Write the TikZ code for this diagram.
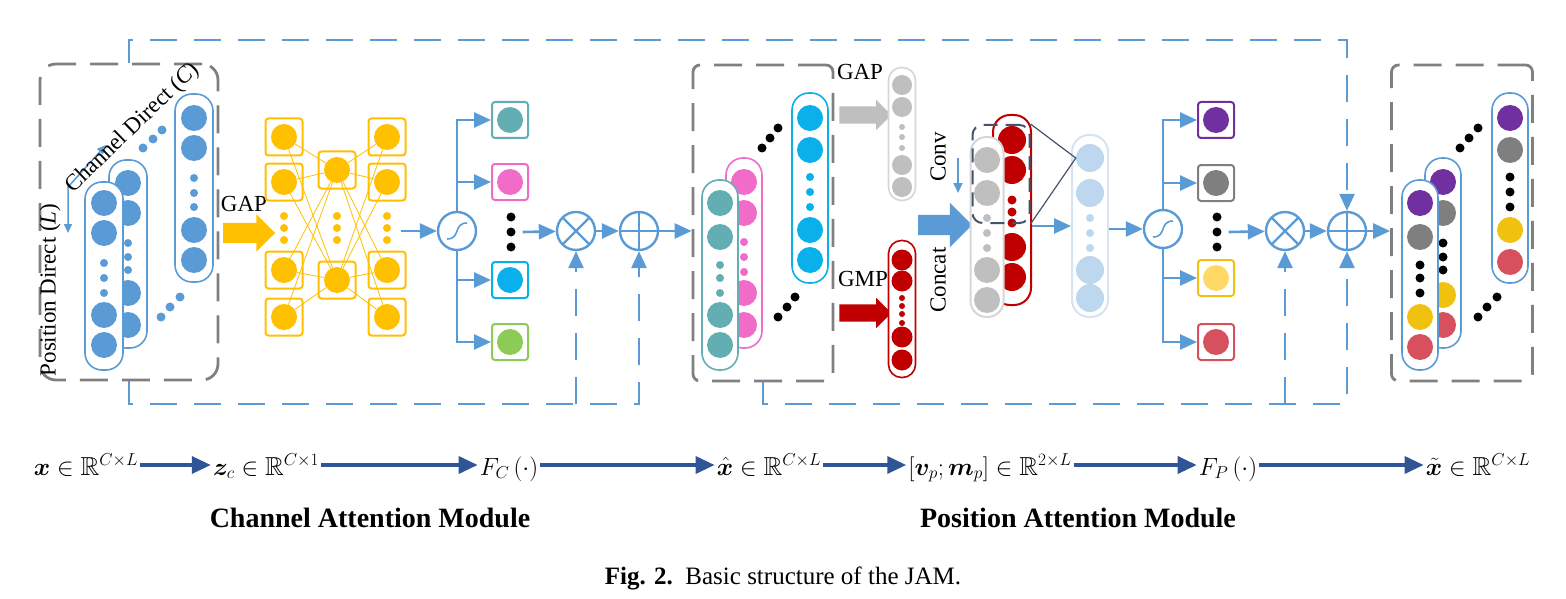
\documentclass[tikz,border=0pt]{standalone}
\usepackage{amsmath,amssymb,bm}
\usepackage{fontspec}
\setmainfont{Liberation Serif}
\usetikzlibrary{arrows.meta,shapes.arrows}

\definecolor{jblue}{HTML}{5B9BD5}
\definecolor{jnavy}{HTML}{2F5597}
\definecolor{jgray}{HTML}{808080}
\definecolor{jorange}{HTML}{FFC000}
\definecolor{jteal}{HTML}{62AEB3}
\definecolor{jpink}{HTML}{F06CC8}
\definecolor{jcyan}{HTML}{0AB0EC}
\definecolor{jgreen}{HTML}{8CCB55}
\definecolor{jpurple}{HTML}{7030A0}
\definecolor{jdgray}{HTML}{7F7F7F}
\definecolor{jyellow}{HTML}{F0C20F}
\definecolor{jlyellow}{HTML}{FFD966}
\definecolor{jred}{HTML}{D7505E}
\definecolor{jdred}{HTML}{C00000}
\definecolor{jlgray}{HTML}{BFBFBF}
\definecolor{jvlgray}{HTML}{D6D6D6}
\definecolor{jlblue}{HTML}{BDD7EE}
\definecolor{jvlblue}{HTML}{D6E4F2}
\definecolor{jslate}{HTML}{44546A}

\begin{document}
\begin{tikzpicture}[x=1pt,y=-1pt,
  font=\fontsize{23}{26}\selectfont,
  flow/.style={draw=jblue,line width=2.6pt,-{Triangle[length=17pt,width=15pt]}},
  shortcut/.style={draw=jblue,line width=2.8pt,dash pattern=on 27pt off 17pt,-{Triangle[length=17pt,width=15pt]}},
  fmap/.style={rectangle,draw=jgray,line width=2.8pt,dash pattern=on 28pt off 14pt,
    rounded corners=16pt,minimum width=#1,minimum height=316pt,inner sep=0pt},
  capsule/.style={rectangle,draw=#1,fill=white,line width=1.6pt,rounded corners=17pt,
    minimum width=36pt,inner sep=0pt},
  ball/.style={circle,fill=#1,inner sep=0pt,minimum size=26pt},
  pip/.style={circle,fill=#1,inner sep=0pt,minimum size=8pt},
  wcell/.style={rectangle,draw=#1,fill=white,line width=2pt,rounded corners=3pt,
    minimum size=37pt,inner sep=0pt},
  opnode/.style={circle,draw=jblue,line width=2.4pt,minimum size=38pt,inner sep=0pt},
  sigop/.style={opnode,path picture={\draw[jblue,line width=1.6pt]
    ([shift={(-10pt,-8pt)}]path picture bounding box.center) .. controls +(14pt,0pt) and +(-14pt,0pt)
    .. ([shift={(10pt,8pt)}]path picture bounding box.center);}},
  mulop/.style={opnode,path picture={\draw[jblue,line width=2.4pt]
    (path picture bounding box.north west) -- (path picture bounding box.south east)
    (path picture bounding box.north east) -- (path picture bounding box.south west);}},
  addop/.style={opnode,path picture={\draw[jblue,line width=2.4pt]
    (path picture bounding box.north) -- (path picture bounding box.south)
    (path picture bounding box.east) -- (path picture bounding box.west);}},
  blockarrow/.style={single arrow,fill=#1,inner sep=0pt,minimum height=52pt,text width=0pt,
    single arrow head indent=0pt,shape border rotate=0},
  formula/.style={font=\fontsize{26}{30}\selectfont,inner sep=2pt,anchor=base},
  eqarrow/.style={draw=jnavy,line width=3.5pt,-{Triangle[length=19pt,width=17pt]}}]

  \useasboundingbox (0,0) rectangle (1566,599);

  % channel attention: input x
  \node[fmap=178pt] (xin) at (129,222) {};
  \node[capsule=jblue,minimum width=38pt,minimum height=188pt] (xc3) at (194,188) {};
  \foreach \y in {118,148,230,260} \node[ball=jblue] (xc3-\y) at (194,\y) {};
  \foreach \y in {178,193,207} \node[pip=jblue] (xc3p-\y) at (194,\y) {};
  \node[capsule=jblue,minimum width=38pt,minimum height=188pt] (xc2) at (128,254) {};
  \foreach \y in {183,213,293,325} \node[ball=jblue] (xc2-\y) at (128,\y) {};
  \foreach \y in {243,257,270} \node[pip=jblue] (xc2p-\y) at (128,\y) {};
  \node[capsule=jblue,minimum width=38pt,minimum height=188pt] (xc1) at (104,276) {};
  \foreach \y in {203,233,315,345} \node[ball=jblue] (xc1-\y) at (104,\y) {};
  \foreach \y in {263,278,293} \node[pip=jblue] (xc1p-\y) at (104,\y) {};
  \foreach \x/\y [count=\k] in {143/148,153/139,162/130,161/317,170/307,180/297}
    \node[pip=jblue,minimum size=9pt] (xe\k) at (\x,\y) {};
  \coordinate (ax0) at (68,187);
  \coordinate (axL) at (68,233);
  \coordinate (axC) at (106,145);
  \draw[jblue,line width=1.5pt,{Triangle[length=9pt,width=8pt]}-{Triangle[length=9pt,width=8pt]}]
    (axL) -- (ax0) -- (axC);
  \node[rotate=90] (lblL) at (50,290) {Position Direct (\textit{L})};
  \node[rotate=44] (lblC) at (133,128) {Channel Direct (\textit{C})};

  % GAP + fc layers
  \node[blockarrow=jorange,text height=10pt,text depth=10pt,single arrow head extend=8.5pt] (gap1) at (244,233) {};
  \node (gap1l) at (244,204) {GAP};
  \foreach \y [count=\i] in {137,182,270,317} {
    \node[wcell=jorange] (sl\i) at (284,\y) {};
    \node[wcell=jorange] (sr\i) at (387,\y) {};
  }
  \foreach \y [count=\i] in {170,280} \node[wcell=jorange] (sm\i) at (337,\y) {};
  \foreach \y [count=\i] in {137,182,270,317} {
    \node[ball=jorange] (nl\i) at (284,\y) {};
    \node[ball=jorange] (nr\i) at (387,\y) {};
  }
  \foreach \y [count=\i] in {170,280} \node[ball=jorange] (nm\i) at (337,\y) {};
  \foreach \i in {1,...,4} \foreach \j in {1,2}
    \draw[jorange,line width=0.8pt] (nl\i) -- (nm\j) (nm\j) -- (nr\i);
  \foreach \x in {284,337,387} \foreach \y in {216,228,240}
    \node[pip=jorange] (np\x-\y) at (\x,\y) {};
  \coordinate (netout) at (401,231);

  % channel weights
  \node[sigop] (sig1) at (457,231) {};
  \draw[flow] (netout) -- (sig1);
  \foreach \y/\c [count=\i] in {120/jteal,182/jpink,280/jcyan,342/jgreen} {
    \node[wcell=\c,minimum size=36pt] (w\i) at (510,\y) {};
    \node[ball=\c] (wb\i) at (510,\y) {};
    \draw[flow] (sig1) |- (w\i);
  }
  \foreach \y [count=\i] in {217,232,247} \node[pip=black,minimum size=9pt] (wd\i) at (511,\y) {};
  \node[mulop] (mul1) at (576,231) {};
  \node[addop] (add1) at (639,231) {};
  \draw[flow] ([xshift=7pt]wd2.east) -- (mul1);
  \draw[flow] (mul1) -- (add1);

  % refined x-hat
  \node[fmap=140pt,rounded corners=7pt] (xmid) at (763,223) {};
  \draw[flow] (add1) -- (add1 -| xmid.west);
  \node[capsule=jcyan,minimum height=190pt] (hc3) at (810,188) {};
  \foreach \y in {118,150,230,260} \node[ball=jcyan] (hc3-\y) at (810,\y) {};
  \foreach \y in {177,192,207} \node[pip=jcyan] (hc3p-\y) at (810,\y) {};
  \node[capsule=jpink,minimum height=190pt] (hc2) at (744,253) {};
  \foreach \y in {182,213,293,325} \node[ball=jpink] (hc2-\y) at (744,\y) {};
  \foreach \y in {242,257,272} \node[pip=jpink] (hc2p-\y) at (744,\y) {};
  \node[capsule=jteal,minimum height=190pt] (hc1) at (720,275) {};
  \foreach \y in {203,237,315,345} \node[ball=jteal] (hc1-\y) at (720,\y) {};
  \foreach \y in {265,278,293} \node[pip=jteal] (hc1p-\y) at (720,\y) {};
  \foreach \x/\y [count=\k] in {762/148,770/138,778/128,778/317,787/307,795/297}
    \node[pip=black,minimum size=9pt] (he\k) at (\x,\y) {};

  % position attention: GAP / GMP
  \node[blockarrow=jlgray,text height=8.5pt,text depth=8.5pt,single arrow head extend=6.5pt] (gap2) at (861,115) {};
  \node (gap2l) at (860,72) {GAP};
  \node[blockarrow=jdred,text height=8.5pt,text depth=8.5pt,single arrow head extend=6.5pt] (gmp) at (861,313) {};
  \node (gmpl) at (863,279) {GMP};
  \node[capsule=jvlgray,minimum width=27pt,rounded corners=13pt,minimum height=133pt] (vp) at (902,134) {};
  \foreach \y in {85,107,165,187} \node[ball=jlgray,minimum size=20pt] (vp-\y) at (902,\y) {};
  \foreach \y in {127,137,148} \node[pip=jlgray,minimum size=6pt] (vpp-\y) at (902,\y) {};
  \node[capsule=jdred,minimum width=27pt,rounded corners=13pt,minimum height=137pt] (mp) at (902,309) {};
  \foreach \y in {260,281,337,360} \node[ball=jdred,minimum size=21pt] (mp-\y) at (902,\y) {};
  \foreach \y in {298,306,314,323} \node[pip=jdred,minimum size=6pt] (mpp-\y) at (902,\y) {};

  % concat + conv
  \node[blockarrow=jblue,text height=10pt,text depth=10pt,single arrow head extend=12pt,minimum height=54pt] (cat) at (940,225) {};
  \node[rotate=90] (convl) at (938,157) {Conv};
  \node[rotate=90] (catl) at (938,280) {Concat};
  \coordinate (cv1) at (958,158);
  \coordinate (cv2) at (958,193);
  \draw[jblue,line width=2pt,-{Triangle[length=10pt,width=9pt]}] (cv1) -- (cv2);
  \node[capsule=jdred,minimum width=38pt,minimum height=190pt,line width=2pt] (ccr) at (1012,210) {};
  \foreach \y in {140,170,247,277} \node[ball=jdred,minimum size=28pt] (ccr-\y) at (1012,\y) {};
  \foreach \y in {200,212,223} \node[pip=jdred,minimum size=9pt] (ccrp-\y) at (1012,\y) {};
  \node[capsule=jvlgray,minimum width=33pt,rounded corners=16pt,minimum height=180pt,line width=2pt] (ccg) at (987,227) {};
  \foreach \y in {160,193,270,300} \node[ball=jlgray] (ccg-\y) at (987,\y) {};
  \foreach \y in {218,233,248} \node[pip=jlgray] (ccgp-\y) at (987,\y) {};
  \node[rectangle,draw=jslate,line width=2pt,dash pattern=on 14pt off 8pt,rounded corners=10pt,
    minimum width=57pt,minimum height=98pt] (kern) at (1001,174) {};

  % position weights
  \node[capsule=jvlblue,minimum height=182pt,line width=2pt] (lb) at (1090,226) {};
  \foreach \y [count=\i] in {158,193,270,298} \node[ball=jlblue,minimum size=28pt] (lb\i) at (1090,\y) {};
  \foreach \y in {218,233,248} \node[pip=jlblue] (lbp-\y) at (1090,\y) {};
  \draw[jslate,line width=1.2pt] (kern.north east) -- (lb1.west) -- (kern.south east);
  \draw[flow] (ccr.east |- lb) -- (lb);
  \node[sigop] (sig2) at (1163,229) {};
  \draw[flow] (lb.east |- sig2) -- (sig2);
  \foreach \y/\e/\f [count=\i] in {120/jpurple/jpurple,183/jdgray/jdgray,278/jyellow/jlyellow,342/jred/jred} {
    \node[wcell=\e,minimum size=36pt] (p\i) at (1216,\y) {};
    \node[ball=\f] (pb\i) at (1216,\y) {};
    \draw[flow] (sig2) |- (p\i);
  }
  \foreach \y [count=\i] in {217,232,247} \node[pip=black,minimum size=9pt] (pd\i) at (1217,\y) {};
  \node[mulop] (mul2) at (1285,231) {};
  \node[addop] (add2) at (1347,231) {};
  \draw[flow] ([xshift=7pt]pd2.east) -- (mul2);
  \draw[flow] (mul2) -- (add2);

  % output x-tilde
  \node[fmap=141pt,rounded corners=7pt] (xout) at (1462,223) {};
  \draw[flow] (add2) -- (add2 -| xout.west);
  \node[capsule=jblue,minimum height=190pt] (tc3) at (1510,188) {};
  \foreach \y/\c in {118/jpurple,150/jdgray,230/jyellow,262/jred} \node[ball=\c] (tc3-\y) at (1510,\y) {};
  \foreach \y in {177,192,207} \node[pip=black,minimum size=9pt] (tc3p-\y) at (1510,\y) {};
  \node[capsule=jblue,minimum height=190pt] (tc2) at (1443,253) {};
  \foreach \y/\c in {182/jpurple,213/jdgray,295/jyellow,325/jred} \node[ball=\c] (tc2-\y) at (1443,\y) {};
  \foreach \y in {243,257,270} \node[pip=black,minimum size=9pt] (tc2p-\y) at (1443,\y) {};
  \node[capsule=jblue,minimum height=190pt] (tc1) at (1420,275) {};
  \foreach \y/\c in {203/jpurple,237/jdgray,317/jyellow,347/jred} \node[ball=\c] (tc1-\y) at (1420,\y) {};
  \foreach \y in {265,278,293} \node[pip=black,minimum size=9pt] (tc1p-\y) at (1420,\y) {};
  \foreach \x/\y [count=\k] in {1460/148,1469/138,1478/128,1478/317,1487/307,1497/297}
    \node[pip=black,minimum size=9pt] (te\k) at (\x,\y) {};

  % shortcuts
  \coordinate (t1) at (129,40);
  \coordinate (b1) at (129,404);
  \coordinate (b2) at (763,404);
  \draw[shortcut] (xin.north) -- (t1) -| (add2.north);
  \draw[shortcut] (xin.south) -- (b1) -| (add1.south);
  \draw[shortcut] (mul1.south |- b1) -- (mul1.south);
  \draw[shortcut] (xmid.south) -- (b2) -| (add2.south);
  \draw[shortcut] (mul2.south |- b2) -- (mul2.south);

  % tensor shapes
  \node[formula] (fx) at (86,475) {$\bm{x}\in\mathbb{R}^{C\times L}$};
  \node[formula] (fz) at (266,475) {$\bm{z}_c\in\mathbb{R}^{C\times 1}$};
  \node[formula] (fFc) at (509,475) {$F_C\left(\cdot\right)$};
  \node[formula] (fxh) at (769,475) {$\hat{\bm{x}}\in\mathbb{R}^{C\times L}$};
  \node[formula] (fvm) at (990,475) {$\left[\bm{v}_p;\bm{m}_p\right]\in\mathbb{R}^{2\times L}$};
  \node[formula] (fFp) at (1228,475) {$F_P\left(\cdot\right)$};
  \node[formula] (fxt) at (1478,475) {$\tilde{\bm{x}}\in\mathbb{R}^{C\times L}$};
  \foreach \a/\b in {fx/fz,fz/fFc,fFc/fxh,fxh/fvm,fvm/fFp,fFp/fxt}
    \draw[eqarrow] ([yshift=10pt]\a.base east) -- ([yshift=10pt]\b.base west);

  \node[font=\bfseries\fontsize{28}{32}\selectfont] (caml) at (370,518) {Channel Attention Module};
  \node[font=\bfseries\fontsize{28}{32}\selectfont] (paml) at (1078,518) {Position Attention Module};
  \node[font=\fontsize{25}{28}\selectfont] (capt) at (783,578) {\textbf{Fig. 2.}\ \ Basic structure of the JAM.};

\end{tikzpicture}
\end{document}
